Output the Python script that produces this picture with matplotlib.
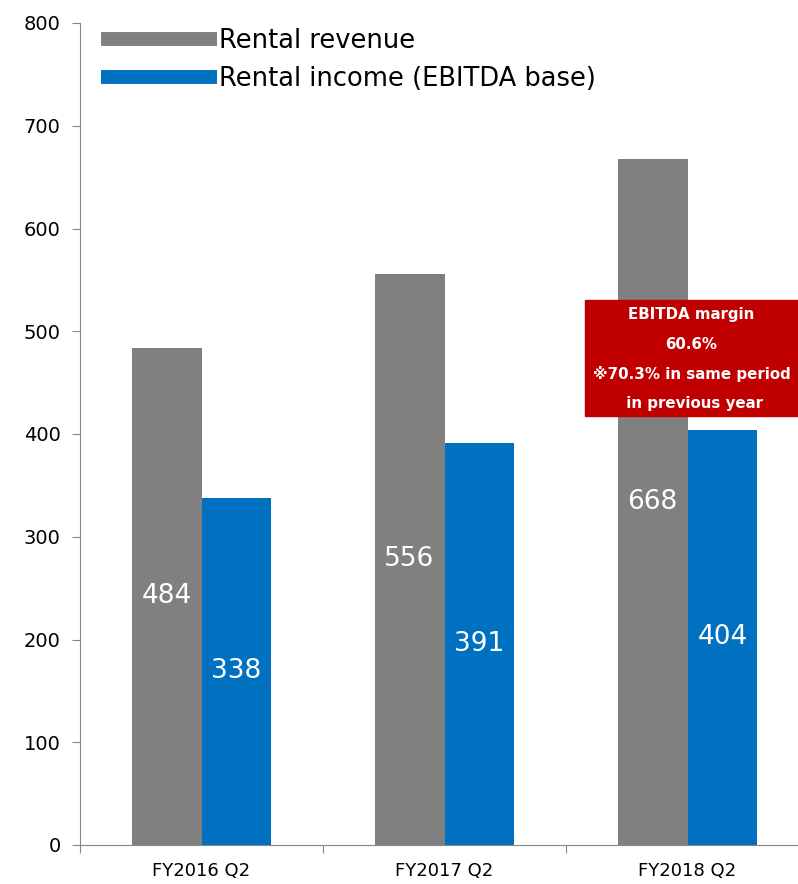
import numpy as np
import matplotlib
matplotlib.use("Agg")
import matplotlib.pyplot as plt
from matplotlib.patches import Rectangle

# data
categories = ["FY2016 Q2", "FY2017 Q2", "FY2018 Q2"]
revenue = [484, 556, 668]
income = [338, 391, 404]
series_names = ["Rental revenue", "Rental income (EBITDA base)"]
note_lines = ["EBITDA margin", "60.6%", "\u203b70.3% in same period", " in previous year"]

gray = "#808080"
blue = "#0070C0"
red = "#C00000"
axis_col = "#868686"

fig = plt.figure(figsize=(7.98, 8.84), dpi=100)
ax = fig.add_axes([80 / 798, 39 / 884, 729 / 798, 822 / 884])

x = np.arange(len(categories))
w = 0.288
b1 = ax.bar(x - w / 2, revenue, w, color=gray, zorder=2)
b2 = ax.bar(x + w / 2, income, w, color=blue, zorder=2)

# value labels in the middle of each bar
for bars, vals in ((b1, revenue), (b2, income)):
    for r, v in zip(bars, vals):
        ax.text(r.get_x() + r.get_width() / 2, v / 2, str(v), ha="center", va="center",
                color="white", fontsize=19, zorder=3)

ax.set_xlim(-0.5, 2.5)
ax.set_ylim(0, 800)
ax.set_yticks(range(0, 801, 100))
ax.tick_params(axis="y", labelsize=14, length=6, color=axis_col, pad=8)

# category ticks sit on the boundaries, labels in the middle
ax.set_xticks([-0.5, 0.5, 1.5, 2.5])
ax.set_xticklabels([])
ax.set_xticks(x, minor=True)
ax.set_xticklabels(categories, minor=True, fontsize=13,
                   family=["Liberation Sans Narrow", "DejaVu Sans"])
ax.tick_params(axis="x", which="major", length=6, color=axis_col)
ax.tick_params(axis="x", which="minor", length=0, pad=12)

for s in ("top", "right"):
    ax.spines[s].set_visible(False)
for s in ("left", "bottom"):
    ax.spines[s].set_color(axis_col)

# legend drawn as thick lines with text next to them
ax.legend([plt.Line2D([], [], color=gray, lw=10, solid_capstyle="butt"),
           plt.Line2D([], [], color=blue, lw=10, solid_capstyle="butt")],
          series_names, loc="upper left", bbox_to_anchor=(-0.003, 1.022),
          frameon=False, fontsize=18.5, handlelength=4.5, handletextpad=0.1,
          labelspacing=0.45)

# EBITDA margin note box
box_y0, box_y1 = 417.5, 530
box_x0, box_x1 = 1.578, 2.455
ax.add_patch(Rectangle((box_x0, box_y0), box_x1 - box_x0, box_y1 - box_y0,
                       color=red, zorder=4))
ys = np.linspace(box_y1 - 14, box_y0 + 12, len(note_lines))
for yy, line in zip(ys, note_lines):
    ax.text((box_x0 + box_x1) / 2, yy, line, ha="center", va="center", color="white",
            fontsize=10.8, fontweight="bold", zorder=5,
            family=["DejaVu Sans", "Noto Sans CJK JP"])

fig.savefig("out.png", dpi=100)
